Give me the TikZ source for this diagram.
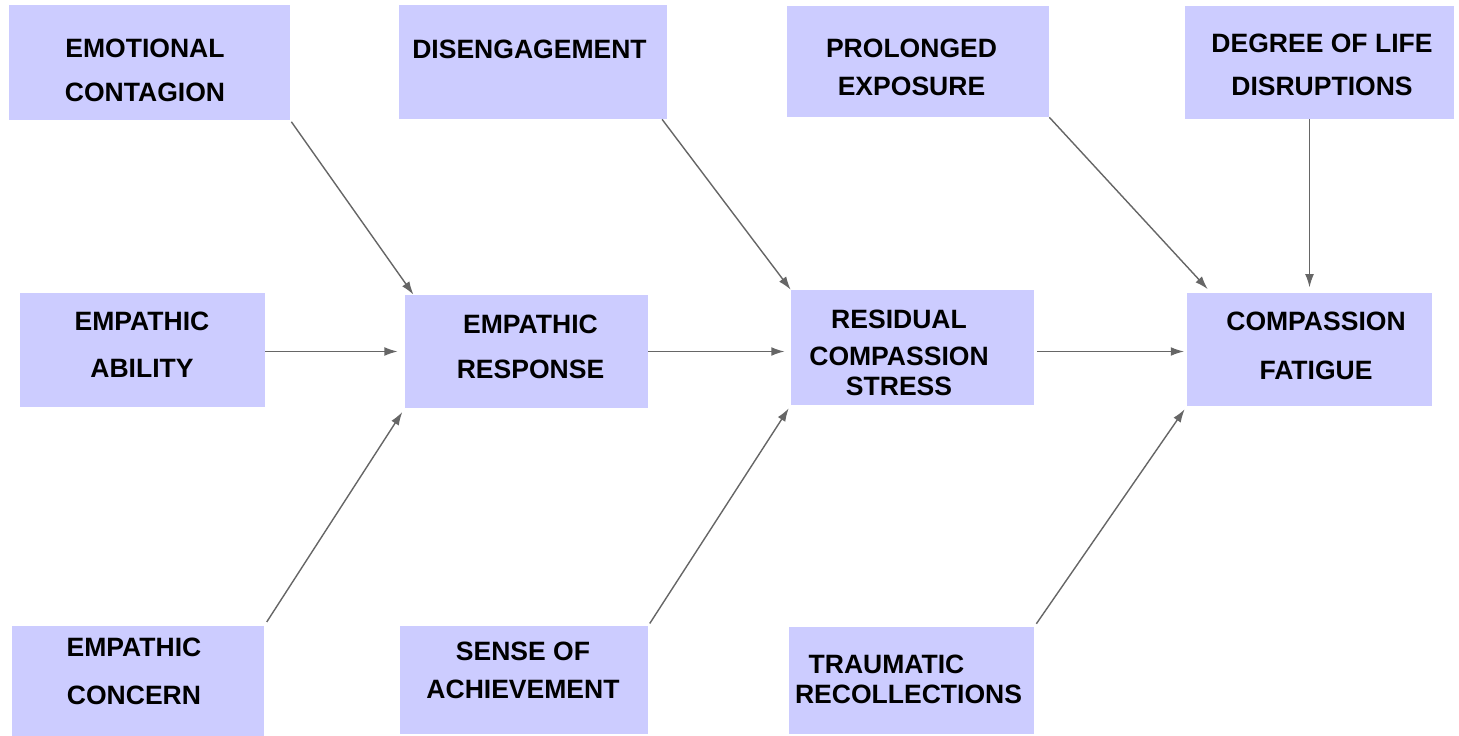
\documentclass[tikz,border=0pt]{standalone}
\usepackage{fontspec}
\setmainfont{Liberation Sans}
\usetikzlibrary{arrows.meta}
\definecolor{boxblue}{HTML}{CCCCFF}
\definecolor{arrowgray}{HTML}{666666}

\begin{document}
\begin{tikzpicture}[x=0.02cm, y=-0.02cm,
	box/.style={fill=boxblue, inner sep=0pt},
	boxsize/.style 2 args={minimum width=#1*0.02cm, minimum height=#2*0.02cm},
	txt/.style={align=center, inner sep=0pt, font=\fontsize{15.1pt}{17pt}\selectfont\bfseries},
	feed/.style={draw=arrowgray, line width=0.8pt, -{Latex[length=7.5pt,width=5pt]}}]
\useasboundingbox (0,0) rectangle (1459,736);

% top row
\node[box, boxsize={281}{115}] (emo) at (149.5,62.5) {};
\node[box, boxsize={268}{114}] (dis) at (533,62) {};
\node[box, boxsize={262}{111}] (pro) at (918,61.5) {};
\node[box, boxsize={269}{113}] (deg) at (1319.5,62.5) {};
% middle row
\node[box, boxsize={245}{114}] (abi) at (142.5,350) {};
\node[box, boxsize={243}{113}] (res) at (526.5,351.5) {};
\node[box, boxsize={243}{115}] (rcs) at (912.5,347.5) {};
\node[box, boxsize={245}{113}] (fat) at (1309.5,349.5) {};
% bottom row
\node[box, boxsize={252}{110}] (con) at (138,681) {};
\node[box, boxsize={248}{108}] (ach) at (524,680) {};
\node[box, boxsize={245}{107}] (tra) at (911.5,680.5) {};

% texts
\node[txt] (emo-t) at (145,70) {EMOTIONAL\\[8pt]CONTAGION};
\node[txt] (dis-t) at (529.5,49) {DISENGAGEMENT};
\node[txt] (pro-t) at (911.5,67) {PROLONGED\\[4.5pt]EXPOSURE};
\node[txt] (deg-t) at (1322,65) {DEGREE OF LIFE\\[7.4pt]DISRUPTIONS};
\node[txt] (abi-t) at (142,345) {EMPATHIC\\[10pt]ABILITY};
\node[txt] (res-t) at (530.5,347) {EMPATHIC\\[9pt]RESPONSE};
\node[txt] (rcs-t) at (899,353) {RESIDUAL\\[4pt]COMPASSION\\STRESS};
\node[txt] (fat-t) at (1316,345.5) {COMPASSION\\[11pt]FATIGUE};
\node[txt] (con-t) at (134,671.5) {EMPATHIC\\[10pt]CONCERN};
\node[txt] (ach-t) at (523,670.5) {SENSE OF\\[5pt]ACHIEVEMENT};
\node[txt] (tra-t) at (908.5,679) {\hspace*{-25pt}TRAUMATIC\\RECOLLECTIONS};

% arrows
\draw[feed, shorten <=1pt] (emo.south east) -- ([xshift=5pt]res.north west);
\draw[feed, shorten >=4pt] (res.west -| abi.east) -- (res.west);
\draw[feed, shorten <=2.5pt, shorten >=2.5pt] (con.north east) -- (res.south west);
\draw[feed] ([xshift=-3pt]dis.south east) -- (rcs.north west);
\draw[feed, shorten >=3.5pt] (res.east) -- (res.east -| rcs.west);
\draw[feed, shorten <=1.5pt, shorten >=2pt] (ach.north east) -- (rcs.south west);
\draw[feed] (pro.south east) -- ([xshift=12pt,yshift=2pt]fat.north west);
\draw[feed, shorten >=3pt] (deg.south -| fat.north) -- (fat.north);
\draw[feed, shorten <=1.5pt, shorten >=1.5pt] (res.east -| rcs.east) -- (res.east -| fat.west);
\draw[feed, shorten <=2pt, shorten >=2pt] (tra.north east) -- (fat.south west);
\end{tikzpicture}
\end{document}
